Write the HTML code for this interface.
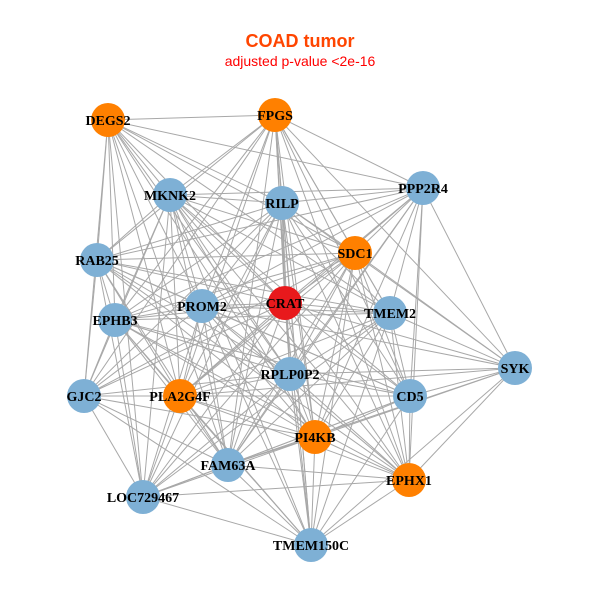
<!DOCTYPE html>
<html><head><meta charset="utf-8"><style>
html,body{margin:0;padding:0;background:#fff;width:600px;height:600px;overflow:hidden}
</style></head><body>
<svg id="s" width="600" height="600" xmlns="http://www.w3.org/2000/svg">
<rect width="600" height="600" fill="#fff"/>
<text x="300" y="47" text-anchor="middle" font-family="Liberation Sans, sans-serif" font-weight="bold" font-size="18" fill="#FF4500">COAD tumor</text>
<text x="300" y="66" text-anchor="middle" font-family="Liberation Sans, sans-serif" font-size="14" fill="#FF0000">adjusted p-value &lt;2e-16</text>
<g id="edges" stroke="#a8a8a8" stroke-width="1"></g>
<g id="nodes"></g>
</svg>
<script>
var N=[["DEGS2",108,120,"o"],["FPGS",275,115,"o"],["MKNK2",170,195,"b"],["RILP",282,203,"b"],["PPP2R4",423,188,"b"],["RAB25",97,260,"b"],["SDC1",355,253,"o"],["CRAT",285,303,"r"],["PROM2",202,306,"b"],["TMEM2",390,313,"b"],["EPHB3",115,320,"b"],["SYK",515,368,"b"],["RPLP0P2",290,374,"b"],["GJC2",84,396,"b"],["PLA2G4F",180,396,"o"],["CD5",410,396,"b"],["PI4KB",315,437,"o"],["FAM63A",228,465,"b"],["EPHX1",409,480,"o"],["LOC729467",143,497,"b"],["TMEM150C",311,545,"b"]];
var C={o:"#FF8000",b:"#7EB0D5",r:"#E8191C"};
var ns="http://www.w3.org/2000/svg",E=document.getElementById("edges"),G=document.getElementById("nodes");
var skip={"0-11":1,"13-11":1,"0-18":1,"13-4":1,"19-4":1,"5-11":1,"10-11":1,"0-15":1,"13-9":1,"19-11":1,"20-4":1,"20-0":1,"1-19":1,"13-18":1,"20-5":1,"2-11":1};
for(var i=0;i<N.length;i++)for(var j=i+1;j<N.length;j++){
 if(skip[i+"-"+j]||skip[j+"-"+i])continue;
 var l=document.createElementNS(ns,"line");
 l.setAttribute("x1",N[i][1]);l.setAttribute("y1",N[i][2]);l.setAttribute("x2",N[j][1]);l.setAttribute("y2",N[j][2]);E.appendChild(l);}
N.forEach(function(n){
 var c=document.createElementNS(ns,"circle");c.setAttribute("cx",n[1]);c.setAttribute("cy",n[2]);c.setAttribute("r",17);c.setAttribute("fill",C[n[3]]);G.appendChild(c);});
N.forEach(function(n){
 var t=document.createElementNS(ns,"text");t.setAttribute("x",n[1]);t.setAttribute("y",n[2]+5);t.setAttribute("text-anchor","middle");
 t.setAttribute("font-family","Liberation Serif, serif");t.setAttribute("font-weight","bold");t.setAttribute("font-size","14");t.textContent=n[0];G.appendChild(t);});
</script>
</body></html>
